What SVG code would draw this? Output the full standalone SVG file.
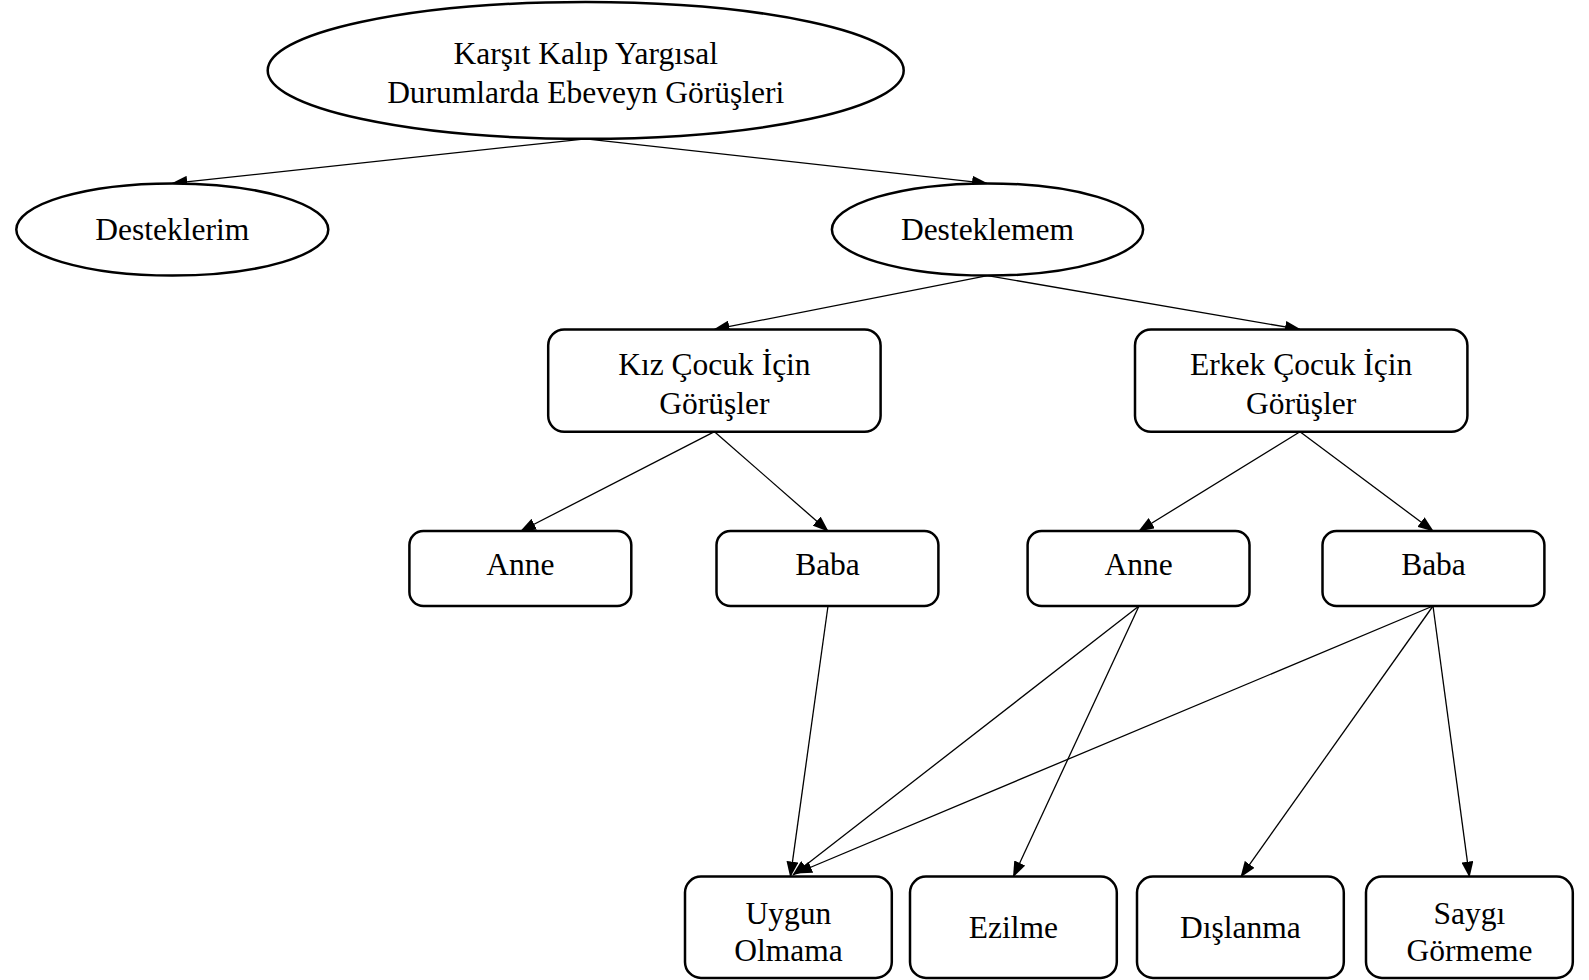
<svg xmlns="http://www.w3.org/2000/svg" width="1589" height="980" viewBox="0 0 1589 980">
<style>
.n{fill:#fff;stroke:#000;stroke-width:2.5}
.t{font-family:"Liberation Serif","Times New Roman",serif;font-size:31.5px;fill:#000;text-anchor:middle;dominant-baseline:central}
.c{fill:none;stroke:#000;stroke-width:1.3;marker-end:url(#ah)}
</style>
<defs>
<marker id="ah" markerUnits="userSpaceOnUse" markerWidth="16" markerHeight="12" refX="15" refY="6" orient="auto">
<path d="M0,0 L16,6 L0,12 Z" fill="#000"/>
</marker>
</defs>
<rect width="1589" height="980" fill="#fff"/>
<g id="connectors">
<line class="c" x1="585.7" y1="138.8" x2="172.3" y2="183.4"/>
<line class="c" x1="585.7" y1="138.8" x2="987" y2="183.4"/>
<line class="c" x1="987.5" y1="275.6" x2="714.5" y2="329.4"/>
<line class="c" x1="987.5" y1="275.6" x2="1300" y2="329.4"/>
<line class="c" x1="714.5" y1="431.7" x2="520.9" y2="531"/>
<line class="c" x1="714.5" y1="431.7" x2="828" y2="531"/>
<line class="c" x1="1300" y1="431.7" x2="1139" y2="531"/>
<line class="c" x1="1300" y1="431.7" x2="1433" y2="531"/>
<line class="c" x1="828" y1="606" x2="790.4" y2="876.6"/>
<line class="c" x1="1139" y1="606" x2="793" y2="875"/>
<line class="c" x1="1139" y1="606" x2="1013.4" y2="876.6"/>
<line class="c" x1="1433" y1="606" x2="797" y2="873"/>
<line class="c" x1="1433" y1="606" x2="1241" y2="876.6"/>
<line class="c" x1="1433" y1="606" x2="1469.4" y2="876.6"/>
</g>
<g id="root">
<ellipse class="n" cx="585.7" cy="70.4" rx="318" ry="68.4"/>
<text class="t" x="585.7" y="53.7">Karşıt Kalıp Yargısal</text>
<text class="t" x="585.7" y="92.2">Durumlarda Ebeveyn Görüşleri</text>
</g>
<g id="desteklerim">
<ellipse class="n" cx="172.3" cy="229.5" rx="156" ry="46.1"/>
<text class="t" x="172.3" y="229.5">Desteklerim</text>
</g>
<g id="desteklemem">
<ellipse class="n" cx="987.5" cy="229.5" rx="155.6" ry="46.1"/>
<text class="t" x="987.5" y="229.5">Desteklemem</text>
</g>
<g id="kiz">
<rect class="n" x="548.2" y="329.4" width="332.4" height="102.3" rx="16"/>
<text class="t" x="714.4" y="364.8">Kız Çocuk İçin</text>
<text class="t" x="714.4" y="403.3">Görüşler</text>
</g>
<g id="erkek">
<rect class="n" x="1135" y="329.4" width="332.4" height="102.3" rx="16"/>
<text class="t" x="1301.2" y="364.8">Erkek Çocuk İçin</text>
<text class="t" x="1301.2" y="403.3">Görüşler</text>
</g>
<g id="anne1">
<rect class="n" x="409.4" y="531" width="221.9" height="75" rx="14"/>
<text class="t" x="520.4" y="564.5">Anne</text>
</g>
<g id="baba1">
<rect class="n" x="716.5" y="531" width="221.9" height="75" rx="14"/>
<text class="t" x="827.5" y="564.5">Baba</text>
</g>
<g id="anne2">
<rect class="n" x="1027.6" y="531" width="221.9" height="75" rx="14"/>
<text class="t" x="1138.6" y="564.5">Anne</text>
</g>
<g id="baba2">
<rect class="n" x="1322.5" y="531" width="221.9" height="75" rx="14"/>
<text class="t" x="1433.5" y="564.5">Baba</text>
</g>
<g id="uygun">
<rect class="n" x="685" y="876.6" width="206.8" height="101.3" rx="16"/>
<text class="t" x="788.4" y="913">Uygun</text>
<text class="t" x="788.4" y="950.6">Olmama</text>
</g>
<g id="ezilme">
<rect class="n" x="910" y="876.6" width="206.8" height="101.3" rx="16"/>
<text class="t" x="1013.4" y="927.2">Ezilme</text>
</g>
<g id="dislanma">
<rect class="n" x="1137" y="876.6" width="206.8" height="101.3" rx="16"/>
<text class="t" x="1240.4" y="927.2">Dışlanma</text>
</g>
<g id="saygi">
<rect class="n" x="1366" y="876.6" width="206.8" height="101.3" rx="16"/>
<text class="t" x="1469.4" y="913">Saygı</text>
<text class="t" x="1469.4" y="950.6">Görmeme</text>
</g>
</svg>
